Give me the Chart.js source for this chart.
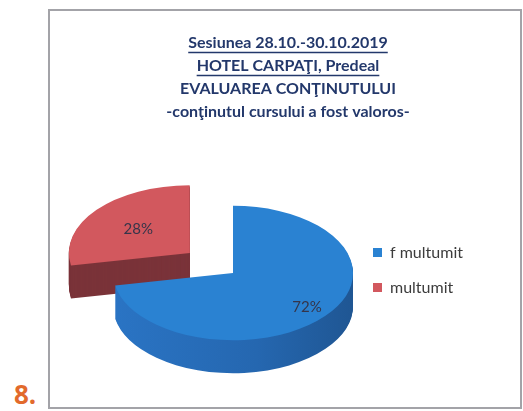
<!DOCTYPE html>
<html><head><meta charset="utf-8">
<script src="https://cdn.jsdelivr.net/npm/chart.js@4/dist/chart.umd.min.js"></script>
<style>
html,body{margin:0;padding:0;background:#fff;width:523px;height:411px;overflow:hidden;}
#box{position:absolute;left:48px;top:9px;width:470px;height:396px;border:2px solid #a3a3a8;}
#box canvas{display:block;}
#num{position:absolute;left:14px;top:379px;font:bold 26px 'Open Sans',sans-serif;color:#e26a2c;line-height:30px;}
</style></head><body>
<div id="num">8.</div>
<div id="box"><canvas id="c" width="470" height="396"></canvas></div>
<script>
const categories = ['f multumit', 'multumit'];
const values = [72, 28];
const titleLines = ['Sesiunea 28.10.-30.10.2019', 'HOTEL CARPAŢI, Predeal', 'EVALUAREA CONŢINUTULUI', '-conţinutul cursului a fost valoros-'];
const topColors = ['#2a82d2', '#d2585e'];
const explode = [0, 224];
const labelRadius = [0.8, 0.55];

const TILT = 0.56, DEPTH = 33, SHIFT = 3;
const TITLE_LH = 23, TITLE_PAD_TOP = 20;

function viewTransform(ctx, cx, cy, d) {
  ctx.translate(cx, cy + SHIFT + d);
  ctx.scale(1, TILT);
  ctx.translate(-cx, -cy);
}

const pie3d = {
  id: 'pie3d',
  beforeDatasetsDraw(chart) {
    const ctx = chart.ctx;
    const ca = chart.chartArea;
    const cx = (ca.left + ca.right) / 2, cy = (ca.top + ca.bottom) / 2;
    const arcs = chart.getDatasetMeta(0).data;
    const blueSide = ctx.createLinearGradient(cx - 120, 0, cx + 120, 0);
    blueSide.addColorStop(0, '#2a74c4');
    blueSide.addColorStop(0.6, '#2567b0');
    blueSide.addColorStop(1, '#1f5693');
    const sideColors = [blueSide, '#7a3339'];
    const order = [1, 0];
    order.forEach(i => {
      const arc = arcs[i];
      const saved = arc.options;
      arc.options = Object.assign({}, saved, {backgroundColor: sideColors[i], borderWidth: 0});
      for (let d = DEPTH; d >= 1; d--) {
        ctx.save();
        viewTransform(ctx, cx, cy, d);
        arc.draw(ctx);
        ctx.restore();
      }
      arc.options = saved;
      ctx.save();
      viewTransform(ctx, cx, cy, 0);
      arc.draw(ctx);
      ctx.restore();
    });
    return false;
  },
  afterDraw(chart) {
    const ctx = chart.ctx;
    const ca = chart.chartArea;
    const cx = (ca.left + ca.right) / 2, cy = (ca.top + ca.bottom) / 2;
    const arcs = chart.getDatasetMeta(0).data;
    const total = values.reduce((a, b) => a + b, 0);
    ctx.save();
    ctx.font = '15px Lato';
    ctx.fillStyle = '#35354a';
    ctx.textAlign = 'center';
    ctx.textBaseline = 'middle';
    arcs.forEach((arc, i) => {
      const p = arc.getProps(['x', 'y', 'startAngle', 'endAngle', 'outerRadius'], true);
      const mid = (p.startAngle + p.endAngle) / 2;
      const circ = p.endAngle - p.startAngle;
      const off = (arc.options.offset || 0) / 4;
      const fix = 1 - Math.sin(Math.min(Math.PI, circ));
      const t = off * (1 + fix);
      const r = p.outerRadius * labelRadius[i];
      const px = p.x + Math.cos(mid) * (t + r);
      const py0 = p.y + Math.sin(mid) * (t + r);
      const py = cy + SHIFT + (py0 - cy) * TILT;
      ctx.fillText(Math.round(values[i] / total * 100) + '%', px, py);
    });
    ctx.restore();
    // underline first two title lines
    const tb = chart.titleBlock;
    ctx.save();
    ctx.font = 'bold 16px Lato';
    ctx.strokeStyle = '#23386b';
    ctx.lineWidth = 1.3;
    const tx = (tb.left + tb.right) / 2;
    [0, 1].forEach(i => {
      const w = ctx.measureText(titleLines[i]).width;
      const y = Math.round(tb.top + TITLE_PAD_TOP + TITLE_LH / 2 + i * TITLE_LH + 9) + 0.5;
      ctx.beginPath();
      ctx.moveTo(tx - w / 2, y);
      ctx.lineTo(tx + w / 2, y);
      ctx.stroke();
    });
    ctx.restore();
  }
};

new Chart(document.getElementById('c'), {
  type: 'pie',
  data: {
    labels: categories,
    datasets: [{
      data: values,
      backgroundColor: topColors,
      borderWidth: 0,
      offset: explode
    }]
  },
  options: {
    responsive: false,
    animation: false,
    devicePixelRatio: 1,
    radius: 120,
    layout: {padding: {left: 62, right: 56, top: 0, bottom: 0}},
    plugins: {
      tooltip: {enabled: false},
      title: {
        display: true,
        text: titleLines,
        color: '#23386b',
        font: {family: 'Lato', size: 16, weight: 'bold', lineHeight: TITLE_LH / 16},
        padding: {top: TITLE_PAD_TOP, bottom: 10}
      },
      legend: {
        position: 'right',
        align: 'center',
        fullSize: false,
        maxWidth: 110,
        labels: {
          boxWidth: 9,
          boxHeight: 9,
          padding: 19,
          color: '#3c3c3c',
          font: {family: 'Lato', size: 16}
        }
      }
    }
  },
  plugins: [pie3d]
});
</script>
</body></html>
